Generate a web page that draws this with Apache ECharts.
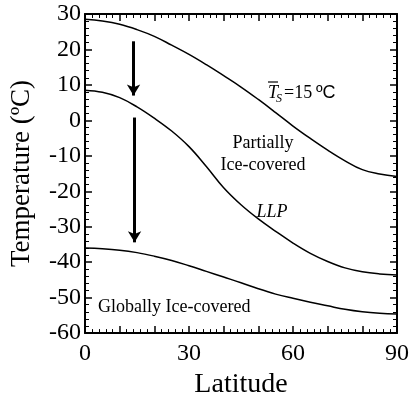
<!DOCTYPE html>
<html style="height: 100%">
<head>
    <meta charset="utf-8">
    <title>Temperature vs Latitude</title>
    <script src="https://cdn.jsdelivr.net/npm/echarts@6/dist/echarts.min.js"></script>
</head>
<body style="height: 100%; margin: 0; background: #fff">
<div id="container" style="width: 412px; height: 404px"></div>
<script type="text/javascript">
    // latitude grid (degrees)
    var lats = [0, 5, 10, 15, 20, 25, 30, 35, 40, 45, 50, 55, 60, 65, 70, 75, 80, 85, 90];
    // mean surface temperature 15 C
    var warm = [28.5, 28.0, 27.1, 25.6, 23.7, 21.2, 18.6, 15.7, 12.6, 9.4, 5.9, 2.2, -1.6, -5.1, -8.4, -11.4, -13.9, -15.1, -15.8];
    // LLP (lower limit of partial ice cover)
    var llp = [8.5, 7.9, 6.4, 3.8, 0.6, -3.0, -7.4, -13.0, -19.0, -23.8, -27.8, -31.3, -34.6, -37.5, -39.8, -41.6, -42.7, -43.3, -43.6];
    // globally ice-covered
    var cold = [-36.0, -36.2, -36.6, -37.3, -38.3, -39.5, -41.0, -42.6, -44.2, -45.8, -47.5, -49.0, -50.2, -51.3, -52.3, -53.3, -54.0, -54.4, -54.6];
    // arrows: latitude, start and end temperature
    var arrowLat = [14, 14.3];
    var arrowFrom = [22.3, 0.8];
    var arrowTo = [7.0, -34.4];

    var serif = 'Liberation Serif';

    function pairs(ys) {
        return lats.map(function (x, i) { return [x, ys[i]]; });
    }

    function curve(name, ys) {
        return {
            name: name,
            type: 'line',
            data: pairs(ys),
            smooth: 0.4,
            showSymbol: false,
            lineStyle: { color: '#000', width: 1.5 },
            silent: true
        };
    }

    var arrowLines = arrowLat.map(function (x, i) {
        return [{ coord: [x, arrowFrom[i]] }, { coord: [x, arrowTo[i]] }];
    });

    var dom = document.getElementById('container');
    var myChart = echarts.init(dom);

    var tickStyle = { color: '#000', width: 1.5 };
    var xBase = {
        type: 'value', min: 0, max: 90, interval: 10,
        axisLine: { show: true, onZero: false, lineStyle: { color: '#000', width: 2 } },
        axisTick: { show: true, inside: true, length: 7, lineStyle: tickStyle },
        minorTick: { show: true, splitNumber: 5, length: 4, lineStyle: { color: '#000', width: 1 } },
        splitLine: { show: false }
    };
    var yBase = {
        type: 'value', min: -60, max: 30, interval: 10,
        axisLine: { show: true, onZero: false, lineStyle: { color: '#000', width: 2 } },
        axisTick: { show: true, inside: true, length: 7, lineStyle: tickStyle },
        minorTick: { show: true, splitNumber: 5, length: 4, lineStyle: { color: '#000', width: 1 } },
        splitLine: { show: false }
    };

    var option = {
        animation: false,
        backgroundColor: '#fff',
        grid: { left: 81, top: 14, right: 8, bottom: 66 },
        xAxis: [
            Object.assign({}, xBase, {
                position: 'bottom',
                name: 'Latitude',
                nameLocation: 'middle',
                nameGap: 37,
                nameTextStyle: { fontFamily: serif, fontSize: 28, color: '#000' },
                axisLabel: {
                    fontFamily: serif, fontSize: 24, color: '#000', margin: 9,
                    formatter: function (v) { return v % 30 === 0 ? String(v) : ''; }
                }
            }),
            Object.assign({}, xBase, { position: 'top', axisLabel: { show: false } })
        ],
        yAxis: [
            Object.assign({}, yBase, {
                position: 'left',
                name: 'Temperature (ºC)',
                nameLocation: 'middle',
                nameGap: 50,
                nameTextStyle: { fontFamily: serif, fontSize: 27, color: '#000' },
                axisLabel: { fontFamily: serif, fontSize: 24, color: '#000', margin: 4 }
            }),
            Object.assign({}, yBase, { position: 'right', axisLabel: { show: false } })
        ],
        series: [
            curve('Ts15', warm),
            curve('LLP', llp),
            curve('Global', cold),
            {
                name: 'arrows',
                type: 'line',
                data: [],
                markLine: {
                    silent: true,
                    symbol: ['none', 'arrow'],
                    symbolSize: [10, 11],
                    label: { show: false },
                    lineStyle: { color: '#000', width: 3, type: 'solid' },
                    data: arrowLines
                }
            }
        ],
        graphic: [
            { type: 'text', left: 268, top: 84, style: { text: 'T', font: 'italic 18px ' + serif, fill: '#000' } },
            { type: 'line', shape: { x1: 268, y1: 82, x2: 278, y2: 82 }, style: { stroke: '#000', lineWidth: 1.2 } },
            { type: 'text', left: 276, top: 93, style: { text: 'S', font: 'italic 12px ' + serif, fill: '#000' } },
            { type: 'text', left: 284, top: 84, style: { text: '=15', font: '18px ' + serif, fill: '#000' } },
            { type: 'text', left: 316, top: 84, style: { text: 'ºC', font: '18px Liberation Sans', fill: '#000' } },
            { type: 'text', x: 263, y: 143, style: { text: 'Partially', font: '18px ' + serif, fill: '#000', align: 'center', verticalAlign: 'middle' } },
            { type: 'text', x: 263, y: 165, style: { text: 'Ice-covered', font: '18px ' + serif, fill: '#000', align: 'center', verticalAlign: 'middle' } },
            { type: 'text', x: 272, y: 212, style: { text: 'LLP', font: 'italic 18px ' + serif, fill: '#000', align: 'center', verticalAlign: 'middle' } },
            { type: 'text', x: 98, y: 307, style: { text: 'Globally Ice-covered', font: '18px ' + serif, fill: '#000', align: 'left', verticalAlign: 'middle' } }
        ]
    };

    myChart.setOption(option, true);
</script>
</body>
</html>
